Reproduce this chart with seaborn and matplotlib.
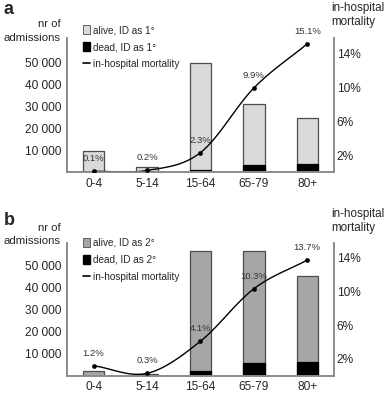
import numpy as np
import pandas as pd
import matplotlib
matplotlib.use("Agg")
import matplotlib.pyplot as plt
import seaborn as sns
from matplotlib.patches import Patch
from matplotlib.lines import Line2D

sns.set_style("white")
plt.rcParams['font.family'] = ['Liberation Sans', 'DejaVu Sans']

# data
age_groups = ["0-4", "5-14", "15-64", "65-79", "80+"]

# panel a: ID as primary diagnosis
total_a = [9500, 2400, 49500, 30900, 24500]
dead_a = [10, 5, 1140, 3060, 3700]
mort_a = [0.1, 0.2, 2.3, 9.9, 15.1]

# panel b: ID as secondary diagnosis
total_b = [2200, 900, 56500, 56500, 45300]
dead_b = [26, 3, 2300, 5800, 6200]
mort_b = [1.2, 0.3, 4.1, 10.3, 13.7]

left_ticks = [10000, 20000, 30000, 40000, 50000]
left_labels = ["10 000", "20 000", "30 000", "40 000", "50 000"]
right_ticks = [2, 6, 10, 14]
right_labels = ["2%", "6%", "10%", "14%"]

SPINE = "#8c8c8c"
EDGE = "#4d4d4d"


def smooth(x, y, n=30):
    # catmull-rom curve through the points, like the spreadsheet smoothed line
    x = np.asarray(x, float)
    y = np.asarray(y, float)
    px = np.concatenate([[2 * x[0] - x[1]], x, [2 * x[-1] - x[-2]]])
    py = np.concatenate([[2 * y[0] - y[1]], y, [2 * y[-1] - y[-2]]])
    xs, ys = [], []
    t = np.linspace(0, 1, n)
    for i in range(1, len(px) - 2):
        for p, out in ((px, xs), (py, ys)):
            p0, p1, p2, p3 = p[i - 1], p[i], p[i + 1], p[i + 2]
            out.extend(0.5 * ((2 * p1) + (-p0 + p2) * t
                              + (2 * p0 - 5 * p1 + 4 * p2 - p3) * t ** 2
                              + (-p0 + 3 * p1 - 3 * p2 + p3) * t ** 3))
    return np.array(xs), np.array(ys)


def panel(ax, letter, total, dead, mort, alive_color, tag, ymax, rmax,
          letter_dy, nr_dy, leg_y):
    df = pd.DataFrame({"age": age_groups, "total": total, "dead": dead})
    sns.barplot(data=df, x="age", y="total", color=alive_color, edgecolor=EDGE,
                linewidth=0.9, width=0.4, saturation=1, ax=ax)
    sns.barplot(data=df, x="age", y="dead", color="black", edgecolor="black",
                linewidth=0.9, width=0.4, saturation=1, ax=ax)
    ax.set_ylim(0, ymax)
    ax.set_xlim(-0.5, 4.5)
    ax.set_yticks(left_ticks)
    ax.set_yticklabels(left_labels, fontsize=8.6)
    ax.tick_params(axis='x', labelsize=8.6, length=0, pad=4)
    ax.tick_params(axis='y', length=0, pad=4)
    ax.set_xlabel("")
    ax.set_ylabel("")
    for s in ["left", "bottom", "right"]:
        ax.spines[s].set_color(SPINE)
        ax.spines[s].set_linewidth(1.2)
    ax.spines["top"].set_visible(False)

    ax2 = ax.twinx()
    xs, ys = smooth(range(len(mort)), mort)
    ax2.plot(xs, ys, color="black", lw=1.0)
    sns.scatterplot(x=list(range(len(mort))), y=mort, color="black", s=10,
                    edgecolor="black", ax=ax2, zorder=5)
    for i, m in enumerate(mort):
        ax2.annotate(f"{m}%", (i, m), xytext=(0, 9), textcoords="offset points",
                     ha="center", va="center", fontsize=6.8, color="#333333")
    ax2.set_ylim(0, rmax)
    ax2.set_yticks(right_ticks)
    ax2.set_yticklabels(right_labels, fontsize=8.6)
    ax2.tick_params(axis='y', length=0, pad=2)
    for s in ["left", "bottom", "right"]:
        ax2.spines[s].set_color(SPINE)
        ax2.spines[s].set_linewidth(1.2)
    ax2.spines["top"].set_visible(False)

    handles = [Patch(facecolor=alive_color, edgecolor=EDGE, linewidth=0.6),
               Patch(facecolor="black", edgecolor="black"),
               Line2D([0], [0], color="black", lw=1.2)]
    labels = [f"alive, ID as {tag}", f"dead, ID as {tag}", "in-hospital mortality"]
    ax2.legend(handles, labels, loc="upper left", bbox_to_anchor=(0.045, leg_y),
               frameon=False, fontsize=7.2, handlelength=0.7, handleheight=0.9,
               handletextpad=0.3, labelspacing=0.7, borderaxespad=0)

    pos = ax.get_position()
    fig.text(0.01, pos.y1 + letter_dy, letter, fontsize=13, fontweight="bold",
             va="center", ha="left")
    # axis title split in two lines so it stays clear of the panel letter
    fig.text(0.157, pos.y1 + nr_dy + 0.017, "nr of", fontsize=8.2,
             ha="right", va="center")
    fig.text(0.157, pos.y1 + nr_dy - 0.017, "admissions", fontsize=8.2,
             ha="right", va="center")
    fig.text(0.855, pos.y1 + 0.057, "in-hospital\nmortality",
             fontsize=8.4, ha="left", va="center", linespacing=1.2)


fig = plt.figure(figsize=(3.87, 3.94), dpi=100)
ax_a = fig.add_axes([0.173, 0.563, 0.69, 0.341])
ax_b = fig.add_axes([0.173, 0.046, 0.69, 0.337])

panel(ax_a, "a", total_a, dead_a, mort_a, "#d9d9d9", "1°", 61000, 15.8,
      0.073, 0.017, 1.125)
panel(ax_b, "b", total_b, dead_b, mort_b, "#a6a6a6", "2°", 60000, 15.7,
      0.058, 0.022, 1.07)

fig.savefig("out.png", dpi=100)
